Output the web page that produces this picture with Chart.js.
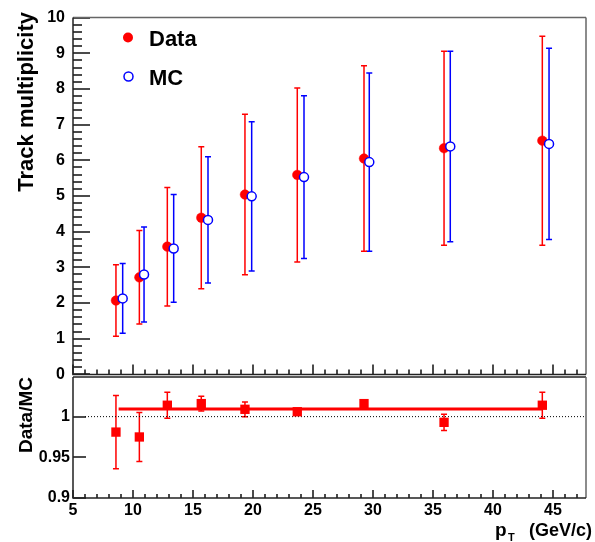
<!DOCTYPE html>
<html>
<head>
<meta charset="utf-8">
<title>Track multiplicity vs pT</title>
<script src="https://cdn.jsdelivr.net/npm/chart.js@4.4.1/dist/chart.umd.min.js"></script>
<style>
  body { margin: 0; background: #fff; }
  #wrap { position: relative; width: 595px; height: 542px; }
  canvas { position: absolute; left: 0; }
  #topChart { top: 0; }
  #ratioChart { top: 360px; }
</style>
</head>
<body>
<div id="wrap">
  <canvas id="topChart" width="595" height="392"></canvas>
  <canvas id="ratioChart" width="595" height="182"></canvas>
</div>
<script>
// values
const ptData = [8.58, 10.53, 12.86, 15.69, 19.33, 23.69, 29.25, 35.92, 44.11];
const ptMC = [9.14, 10.92, 13.39, 16.25, 19.89, 24.25, 29.69, 36.44, 44.67];
const multData = [2.07, 2.72, 3.58, 4.39, 5.04, 5.59, 6.05, 6.34, 6.55];
const multDataErr = [1.00, 1.31, 1.66, 1.99, 2.25, 2.44, 2.60, 2.72, 2.93];
const multMC = [2.13, 2.80, 3.53, 4.33, 4.99, 5.53, 5.95, 6.39, 6.46];
const multMCErr = [0.98, 1.33, 1.51, 1.77, 2.09, 2.28, 2.50, 2.67, 2.68];
const ratio = [0.981, 0.975, 1.014, 1.016, 1.009, 1.006, 1.016, 0.993, 1.014];
const ratioErr = [0.045, 0.030, 0.016, 0.009, 0.009, 0.003, 0.004, 0.010, 0.016];
const fitRange = [8.8, 44.1];
const fitValue = 1.0095;
const unityRange = [6, 47.75];

const xTicks = [5, 10, 15, 20, 25, 30, 35, 40, 45];
const yTicksTop = [0, 1, 2, 3, 4, 5, 6, 7, 8, 9, 10];
const yTicksRatio = [0.9, 0.95, 1];
const yTickLabelsRatio = ["0.9", "0.95", "1"];

const tickFont = { family: "Liberation Sans", weight: "bold", size: 16 };

// vertical error bars with small caps, drawn under the markers
const errorBars = {
    id: "errorBars",
    beforeDatasetsDraw(chart) {
        const ctx = chart.ctx;
        const xs = chart.scales.x, ys = chart.scales.y;
        chart.data.datasets.forEach(ds => {
            if (!ds.errors) return;
            ctx.save();
            ctx.strokeStyle = ds.pointBorderColor;
            ctx.lineWidth = 1.5;
            ds.data.forEach((p, i) => {
                const x = xs.getPixelForValue(p.x);
                const y1 = ys.getPixelForValue(p.y - ds.errors[i]);
                const y2 = ys.getPixelForValue(p.y + ds.errors[i]);
                ctx.beginPath();
                ctx.moveTo(x, y1); ctx.lineTo(x, y2);
                ctx.moveTo(x - 3, y1); ctx.lineTo(x + 3, y1);
                ctx.moveTo(x - 3, y2); ctx.lineTo(x + 3, y2);
                ctx.stroke();
            });
            ctx.restore();
        });
    }
};

// ROOT-like frame with inward ticks
const rootFrame = {
    id: "rootFrame",
    afterDatasetsDraw(chart, args, o) {
        const ctx = chart.ctx, a = chart.chartArea;
        const xs = chart.scales.x, ys = chart.scales.y;
        ctx.save();
        ctx.strokeStyle = "#111";
        ctx.lineWidth = 1.5;
        ctx.beginPath();
        // x ticks on the bottom axis
        for (let k = Math.ceil(xs.min / o.xMinor); k * o.xMinor <= xs.max + 1e-9; k++) {
            const v = k * o.xMinor;
            const major = Math.abs(v / o.xMajor - Math.round(v / o.xMajor)) < 1e-6;
            const px = Math.round(xs.getPixelForValue(v));
            ctx.moveTo(px, a.bottom);
            ctx.lineTo(px, a.bottom - (major ? o.xMajorLen : o.xMinorLen));
        }
        // y ticks on the left axis
        ys.ticks.forEach(t => {
            const py = Math.round(ys.getPixelForValue(t.value));
            ctx.moveTo(a.left, py);
            ctx.lineTo(a.left + o.yMajorLen, py);
        });
        if (o.yMinor) {
            for (let k = Math.ceil(ys.min / o.yMinor); k * o.yMinor <= ys.max + 1e-9; k++) {
                const py = Math.round(ys.getPixelForValue(k * o.yMinor));
                ctx.moveTo(a.left, py);
                ctx.lineTo(a.left + o.yMinorLen, py);
            }
        }
        ctx.stroke();
        // frame
        ctx.lineWidth = 1.5;
        ctx.strokeStyle = o.topColor;
        ctx.beginPath();
        ctx.moveTo(a.left, a.top); ctx.lineTo(a.right, a.top);
        ctx.stroke();
        ctx.strokeStyle = "#666";
        ctx.beginPath();
        ctx.moveTo(a.right, a.top); ctx.lineTo(a.right, a.bottom);
        ctx.stroke();
        ctx.strokeStyle = "#222";
        ctx.beginPath();
        ctx.moveTo(a.left, a.top); ctx.lineTo(a.left, a.bottom); ctx.lineTo(a.right, a.bottom);
        ctx.stroke();
        ctx.restore();
    }
};

function rotatedTitle(ctx, text, x, yTop, size) {
    ctx.save();
    ctx.translate(x, yTop);
    ctx.rotate(-Math.PI / 2);
    ctx.font = "bold " + size + "px 'Liberation Sans'";
    ctx.fillStyle = "#000";
    ctx.textAlign = "right";
    ctx.textBaseline = "alphabetic";
    ctx.fillText(text, 0, 0);
    ctx.restore();
}

const topTexts = {
    id: "topTexts",
    afterDraw(chart) {
        const ctx = chart.ctx;
        rotatedTitle(ctx, "Track multiplicity", 33, 12, 22);
        // legend
        const dsData = chart.data.datasets[1], dsMC = chart.data.datasets[0];
        ctx.save();
        ctx.fillStyle = dsData.pointBackgroundColor;
        ctx.beginPath(); ctx.arc(128, 37.5, 5, 0, Math.PI * 2); ctx.fill();
        ctx.fillStyle = dsMC.pointBackgroundColor;
        ctx.strokeStyle = dsMC.pointBorderColor;
        ctx.lineWidth = 1.5;
        ctx.beginPath(); ctx.arc(128.5, 76.5, 4.5, 0, Math.PI * 2); ctx.fill(); ctx.stroke();
        ctx.font = "bold 22px 'Liberation Sans'";
        ctx.fillStyle = "#000";
        ctx.textAlign = "left";
        ctx.fillText(dsData.label, 149, 46);
        ctx.fillText(dsMC.label, 149, 85);
        ctx.restore();
    }
};

const ratioTexts = {
    id: "ratioTexts",
    afterDraw(chart) {
        const ctx = chart.ctx;
        rotatedTitle(ctx, "Data/MC", 32, 17, 19);
        ctx.save();
        ctx.fillStyle = "#000";
        ctx.textAlign = "left";
        ctx.font = "bold 19px 'Liberation Sans'";
        ctx.fillText("p", 495, 176);
        ctx.font = "bold 11px 'Liberation Sans'";
        ctx.fillText("T", 508, 181);
        ctx.font = "bold 18px 'Liberation Sans'";
        ctx.textAlign = "right";
        ctx.fillText("(GeV/c)", 592, 176);
        ctx.restore();
    }
};

function hiddenGrid() {
    return { display: false, drawTicks: false };
}

new Chart(document.getElementById("topChart"), {
    type: "scatter",
    data: {
        datasets: [
            {
                label: "MC",
                data: ptMC.map((x, i) => ({ x: x, y: multMC[i] })),
                errors: multMCErr,
                pointRadius: 4.5,
                pointBorderWidth: 1.5,
                pointBackgroundColor: "#ffffff",
                pointBorderColor: "#0000ff",
                order: 0
            },
            {
                label: "Data",
                data: ptData.map((x, i) => ({ x: x, y: multData[i] })),
                errors: multDataErr,
                pointRadius: 4.8,
                pointBorderWidth: 0.5,
                pointBackgroundColor: "#ff0000",
                pointBorderColor: "#ff0000",
                order: 1
            }
        ]
    },
    options: {
        responsive: false,
        animation: false,
        devicePixelRatio: 1,
        layout: { padding: { top: 14, right: 9, bottom: 15, left: 0 } },
        plugins: {
            legend: { display: false },
            tooltip: { enabled: false },
            rootFrame: { xMinor: 1, xMajor: 5, xMajorLen: 10, xMinorLen: 5,
                         yMajorLen: 17, yMinor: 0.2, yMinorLen: 9, topColor: "#666" }
        },
        scales: {
            x: {
                type: "linear", min: 5, max: 47.75,
                grid: hiddenGrid(), border: { display: false },
                ticks: { display: false },
                afterFit: s => { s.height = 0; }
            },
            y: {
                type: "linear", min: 0, max: 10,
                grid: hiddenGrid(), border: { display: false },
                afterBuildTicks: s => { s.ticks = yTicksTop.map(v => ({ value: v })); },
                ticks: { font: tickFont, color: "#000", padding: 8 },
                afterFit: s => { s.width = 73; }
            }
        }
    },
    plugins: [errorBars, rootFrame, topTexts]
});

new Chart(document.getElementById("ratioChart"), {
    type: "scatter",
    data: {
        datasets: [
            {
                label: "Data/MC",
                data: ptData.map((x, i) => ({ x: x, y: ratio[i] })),
                errors: ratioErr,
                pointStyle: "rect",
                pointRadius: 6.6,
                pointBorderWidth: 0,
                pointBackgroundColor: "#ff0000",
                pointBorderColor: "#ff0000",
                order: 0
            },
            {
                type: "line",
                label: "fit",
                data: [{ x: fitRange[0], y: fitValue }, { x: fitRange[1], y: fitValue }],
                borderColor: "#ff0000",
                borderWidth: 3,
                pointRadius: 0,
                order: 1
            },
            {
                type: "line",
                label: "unity",
                data: [{ x: unityRange[0], y: 1 }, { x: unityRange[1], y: 1 }],
                borderColor: "#000",
                borderWidth: 1,
                borderDash: [1, 2],
                pointRadius: 0,
                order: 2
            }
        ]
    },
    options: {
        responsive: false,
        animation: false,
        devicePixelRatio: 1,
        layout: { padding: { top: 17, right: 9, bottom: 0, left: 0 } },
        plugins: {
            legend: { display: false },
            tooltip: { enabled: false },
            rootFrame: { xMinor: 1, xMajor: 5, xMajorLen: 8, xMinorLen: 4,
                         yMajorLen: 13, yMinor: null, topColor: "#222" }
        },
        scales: {
            x: {
                type: "linear", min: 5, max: 47.75,
                grid: hiddenGrid(), border: { display: false },
                afterBuildTicks: s => { s.ticks = xTicks.map(v => ({ value: v })); },
                ticks: { font: tickFont, color: "#000", padding: 3, maxRotation: 0, autoSkip: false },
                afterFit: s => { s.height = 44; }
            },
            y: {
                type: "linear", min: 0.9, max: 1.0487,
                grid: hiddenGrid(), border: { display: false },
                afterBuildTicks: s => { s.ticks = yTicksRatio.map(v => ({ value: v })); },
                ticks: { font: tickFont, color: "#000", padding: 3,
                         callback: (v, i) => yTickLabelsRatio[i] },
                afterFit: s => { s.width = 73; }
            }
        }
    },
    plugins: [errorBars, rootFrame, ratioTexts]
});
</script>
</body>
</html>
